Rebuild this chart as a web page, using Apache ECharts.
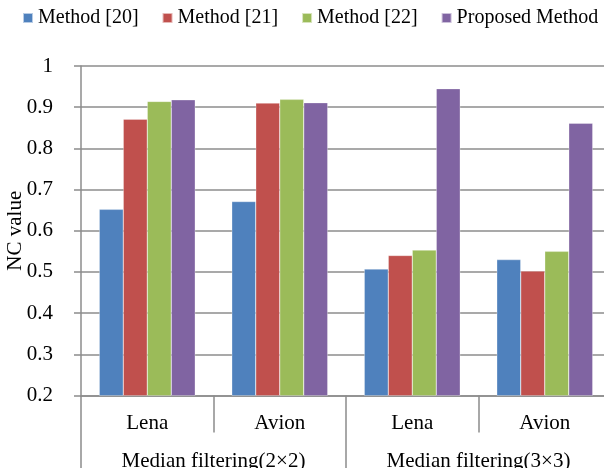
<!DOCTYPE html>
<html>
<head>
<meta charset="utf-8">
<script src="https://cdn.jsdelivr.net/npm/echarts@6/dist/echarts.min.js"></script>
<style>
  html, body { margin: 0; padding: 0; background: #fff; }
  #chart { width: 604px; height: 468px; }
</style>
</head>
<body>
<div id="chart"></div>
<script>
// Image names (first level) and filter groups (second level)
const images = ['Lena', 'Avion', 'Lena', 'Avion'];
const filters = ['Median filtering(2×2)', 'Median filtering(3×3)'];

// NC values per method
const method20 = [0.652, 0.671, 0.507, 0.530];
const method21 = [0.871, 0.910, 0.540, 0.502];
const method22 = [0.914, 0.919, 0.553, 0.550];
const proposed = [0.918, 0.911, 0.945, 0.861];

const seriesNames = ['Method [20]', 'Method [21]', 'Method [22]', 'Proposed Method'];
const seriesData = [method20, method21, method22, proposed];
const colors = ['#4F81BD', '#C0504D', '#9BBB59', '#8064A2'];

const FONT = 'Liberation Serif';
const AXIS_GRAY = '#8c8c8c';

const chart = echarts.init(document.getElementById('chart'), null, { renderer: 'canvas' });

chart.setOption({
  animation: false,
  color: colors,
  textStyle: { fontFamily: FONT, color: '#000' },
  legend: {
    data: seriesNames,
    left: 22,
    top: 7,
    padding: 0,
    icon: 'rect',
    itemWidth: 10,
    itemHeight: 10,
    itemGap: 23,
    textStyle: { fontFamily: FONT, fontSize: 20, color: '#000', lineHeight: 22 }
  },
  // plot area runs slightly past the right edge; keep it fixed rather than fitted to labels
  grid: { left: 81, top: 66, right: -7, bottom: 72.5, containLabel: false, outerBoundsMode: 'none' },
  xAxis: [
    {
      type: 'category',
      data: images,
      position: 'bottom',
      axisLine: { show: true, lineStyle: { color: AXIS_GRAY, width: 1.5 } },
      axisTick: { show: true, interval: 0, length: 37, lineStyle: { color: AXIS_GRAY, width: 1.5 } },
      axisLabel: { interval: 0, margin: 17, fontFamily: FONT, fontSize: 21, color: '#000' }
    },
    {
      type: 'category',
      data: filters,
      position: 'bottom',
      axisLine: { show: false },
      axisTick: { show: true, interval: 0, length: 74, lineStyle: { color: AXIS_GRAY, width: 1.5 } },
      axisLabel: { interval: 0, margin: 55, fontFamily: FONT, fontSize: 21, color: '#000' }
    }
  ],
  yAxis: {
    type: 'value',
    min: 0.2,
    max: 1,
    interval: 0.1,
    name: 'NC value',
    nameLocation: 'middle',
    nameGap: 55,
    nameRotate: 90,
    nameMoveOverlap: false,
    nameTextStyle: { fontFamily: FONT, fontSize: 21, color: '#000' },
    axisLine: { show: true, lineStyle: { color: AXIS_GRAY, width: 1.5 } },
    axisTick: { show: true, length: 7, lineStyle: { color: AXIS_GRAY, width: 1.5 } },
    axisLabel: {
      margin: 28,
      fontFamily: FONT,
      fontSize: 21,
      color: '#000',
      formatter: v => String(Math.round(v * 10) / 10)
    },
    splitLine: { show: true, lineStyle: { color: AXIS_GRAY, width: 1.5 } }
  },
  series: seriesNames.map((name, i) => ({
    name,
    type: 'bar',
    xAxisIndex: 0,
    data: seriesData[i],
    barWidth: 24,
    barGap: '0%',
    itemStyle: { color: colors[i], borderColor: 'rgba(255,255,255,0.6)', borderWidth: 0.5 }
  }))
});
</script>
</body>
</html>
